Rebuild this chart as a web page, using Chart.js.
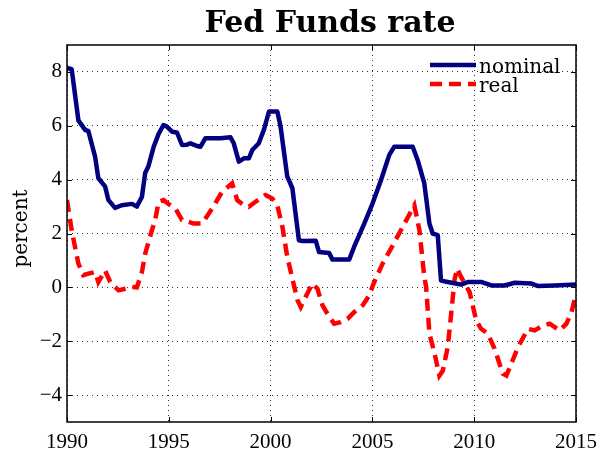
<!DOCTYPE html>
<html>
<head>
<meta charset="utf-8">
<script src="https://cdn.jsdelivr.net/npm/chart.js@4.4.1/dist/chart.umd.min.js"></script>
<style>
  html, body { margin: 0; padding: 0; background: #fff; }
  #wrap { width: 610px; height: 457px; }
</style>
</head>
<body>
<div id="wrap"><canvas id="fedChart"></canvas></div>
<script>
// values (decimal year, percent)
const nominalDates = [1990.00, 1990.23, 1990.56, 1990.89, 1991.05, 1991.38, 1991.54, 1991.87, 1992.03, 1992.36,
  1992.69, 1993.19, 1993.43, 1993.68, 1993.84, 1994.00, 1994.25, 1994.50, 1994.74, 1994.91,
  1995.16, 1995.40, 1995.65, 1995.90, 1996.06, 1996.39, 1996.55, 1996.80, 1997.54, 1998.03,
  1998.19, 1998.44, 1998.69, 1998.93, 1999.10, 1999.42, 1999.67, 1999.92, 2000.33, 2000.49,
  2000.82, 2001.07, 2001.39, 2001.56, 2002.22, 2002.38, 2002.87, 2003.04, 2003.86, 2004.10,
  2004.60, 2005.01, 2005.42, 2005.83, 2006.07, 2006.98, 2007.22, 2007.55, 2007.80, 2007.96,
  2008.21, 2008.37, 2008.70, 2009.36, 2009.69, 2010.34, 2010.84, 2011.49, 2011.99, 2012.81,
  2013.14, 2013.96, 2015.00];
const nominalRate = [8.15, 8.10, 6.20, 5.85, 5.80, 4.85, 4.05, 3.75, 3.25, 2.95,
  3.05, 3.10, 3.00, 3.36, 4.25, 4.50, 5.20, 5.70, 6.03, 5.97,
  5.78, 5.75, 5.29, 5.30, 5.35, 5.25, 5.22, 5.54, 5.54, 5.57,
  5.35, 4.67, 4.79, 4.79, 5.10, 5.35, 5.85, 6.53, 6.53, 5.97,
  4.11, 3.68, 1.75, 1.72, 1.73, 1.31, 1.28, 1.03, 1.03, 1.50,
  2.37, 3.12, 3.98, 4.92, 5.22, 5.22, 4.73, 3.86, 2.37, 2.00,
  1.94, 0.25, 0.20, 0.10, 0.20, 0.20, 0.07, 0.07, 0.17, 0.14,
  0.05, 0.07, 0.11];

const realDates = [1990.00, 1990.23, 1990.56, 1990.80, 1991.05, 1991.38, 1991.54, 1991.87, 1992.12, 1992.53,
  1992.86, 1993.19, 1993.43, 1993.68, 1993.84, 1994.17, 1994.33, 1994.50, 1994.74, 1995.07,
  1995.32, 1995.65, 1995.98, 1996.22, 1996.64, 1997.13, 1997.62, 1998.11, 1998.36, 1998.69,
  1998.93, 1999.26, 1999.75, 2000.08, 2000.33, 2000.58, 2000.82, 2001.07, 2001.32, 2001.48,
  2001.72, 2002.05, 2002.30, 2002.55, 2002.79, 2003.12, 2003.45, 2003.78, 2004.10, 2004.52,
  2004.84, 2005.09, 2005.50, 2006.00, 2006.49, 2007.06, 2007.31, 2007.55, 2007.64, 2007.80,
  2008.04, 2008.29, 2008.46, 2008.70, 2008.87, 2009.03, 2009.16, 2009.36, 2009.77, 2010.10,
  2010.34, 2010.67, 2011.00, 2011.41, 2011.58, 2011.82, 2012.15, 2012.64, 2012.97, 2013.38,
  2013.71, 2014.20, 2014.53, 2014.78, 2015.00];
const realRate = [3.24, 2.12, 0.88, 0.45, 0.51, 0.57, 0.20, 0.63, 0.20, -0.11,
  -0.05, 0.01, 0.00, 0.57, 1.25, 2.12, 2.50, 3.18, 3.24, 3.05,
  2.93, 2.50, 2.43, 2.37, 2.37, 2.93, 3.55, 3.86, 3.24, 3.05,
  2.99, 3.18, 3.43, 3.30, 3.05, 2.25, 1.13, 0.32, -0.48, -0.73,
  -0.36, 0.14, -0.05, -0.67, -0.98, -1.35, -1.29, -1.17, -0.92, -0.67,
  -0.30, 0.20, 0.88, 1.56, 2.25, 3.05, 2.12, 0.38, 0.01, -1.72,
  -2.41, -3.28, -3.09, -2.22, -0.98, 0.26, 0.70, 0.38, -0.17, -1.23,
  -1.54, -1.72, -2.28, -3.21, -3.28, -2.84, -2.22, -1.54, -1.60, -1.42,
  -1.35, -1.60, -1.35, -0.92, -0.25];

const xTicks = [1990, 1995, 2000, 2005, 2010, 2015];
const yTicks = [-4, -2, 0, 2, 4, 6, 8];

const titleText = 'Fed Funds rate';
const yLabel = 'percent';

function toPoints(xs, ys) {
  return xs.map((x, i) => ({x: x, y: ys[i]}));
}

// frame, inward ticks, title, y label and the legend box
const extras = {
  id: 'extras',
  afterDraw(chart) {
    const ctx = chart.ctx;
    const a = chart.chartArea;
    const xs = chart.scales.x, ys = chart.scales.y;
    ctx.save();
    ctx.strokeStyle = '#000';
    ctx.lineWidth = 1.5;
    ctx.strokeRect(a.left, a.top, a.right - a.left, a.bottom - a.top);

    ctx.lineWidth = 1;
    ctx.beginPath();
    xTicks.forEach(t => {
      const px = Math.round(xs.getPixelForValue(t)) + 0.5;
      ctx.moveTo(px, a.bottom); ctx.lineTo(px, a.bottom - 5);
      ctx.moveTo(px, a.top); ctx.lineTo(px, a.top + 5);
    });
    yTicks.forEach(t => {
      const py = Math.round(ys.getPixelForValue(t)) + 0.5;
      ctx.moveTo(a.left, py); ctx.lineTo(a.left + 5, py);
      ctx.moveTo(a.right, py); ctx.lineTo(a.right - 5, py);
    });
    ctx.stroke();

    // title
    ctx.fillStyle = '#000';
    ctx.font = 'bold 30px "DejaVu Serif"';
    ctx.textAlign = 'center';
    ctx.textBaseline = 'alphabetic';
    ctx.fillText(titleText, 330, 32);

    // y axis label
    ctx.save();
    ctx.translate(27, (a.top + a.bottom) / 2 - 5);
    ctx.rotate(-Math.PI / 2);
    ctx.font = '20px "DejaVu Serif"';
    ctx.fillText(yLabel, 0, 0);
    ctx.restore();

    // legend
    ctx.font = '20px "DejaVu Serif"';
    ctx.textAlign = 'left';
    chart.data.datasets.forEach((ds, i) => {
      const y = 65 + i * 19;
      ctx.strokeStyle = ds.borderColor;
      ctx.lineWidth = ds.borderWidth;
      ctx.setLineDash(ds.borderDash || []);
      ctx.beginPath();
      ctx.moveTo(430, y); ctx.lineTo(476, y);
      ctx.stroke();
      ctx.setLineDash([]);
      ctx.fillStyle = '#000';
      ctx.fillText(ds.label, 479, y + 8);
    });
    ctx.restore();
  }
};

const ctx = document.getElementById('fedChart').getContext('2d');
new Chart(ctx, {
  type: 'line',
  data: {
    datasets: [{
      label: 'nominal',
      data: toPoints(nominalDates, nominalRate),
      borderColor: '#000080',
      borderWidth: 4.5,
      pointRadius: 0,
      tension: 0,
      borderJoinStyle: 'round'
    }, {
      label: 'real',
      data: toPoints(realDates, realRate),
      borderColor: '#ff0000',
      borderWidth: 4.5,
      borderDash: [12, 7],
      pointRadius: 0,
      tension: 0
    }]
  },
  options: {
    responsive: true,
    maintainAspectRatio: false,
    animation: false,
    layout: { padding: { left: 0, right: 34, top: 45, bottom: 0 } },
    plugins: {
      legend: { display: false },
      title: { display: false },
      tooltip: { enabled: false }
    },
    scales: {
      x: {
        type: 'linear',
        min: 1990,
        max: 2015,
        afterBuildTicks: s => { s.ticks = xTicks.map(v => ({value: v})); },
        afterFit: s => { s.height = 35; },
        grid: { color: '#333', lineWidth: 1, drawTicks: false },
        border: { display: false, dash: [1, 4] },
        ticks: {
          padding: 8,
          color: '#000',
          font: { family: '"Liberation Serif"', size: 21 },
          maxRotation: 0,
          callback: v => String(v)
        }
      },
      y: {
        min: -5,
        max: 9,
        afterBuildTicks: s => { s.ticks = yTicks.map(v => ({value: v})); },
        afterFit: s => { s.width = 67; },
        grid: { color: '#333', lineWidth: 1, drawTicks: false },
        border: { display: false, dash: [1, 4] },
        ticks: {
          padding: 5,
          color: '#000',
          font: { family: '"Liberation Serif"', size: 21 },
          callback: v => String(v).replace('-', '\u2212')
        }
      }
    }
  },
  plugins: [extras]
});
</script>
</body>
</html>
